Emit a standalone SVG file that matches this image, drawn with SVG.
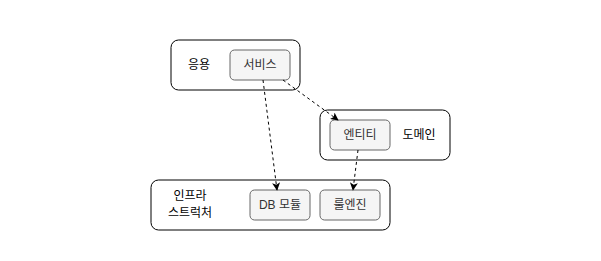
<svg xmlns="http://www.w3.org/2000/svg" width="601" height="261" viewBox="0 0 601 261">
<style>
.outer{fill:#ffffff;stroke:#000000;stroke-width:1}
.inner{fill:#f5f5f5;stroke:#666666;stroke-width:1}
.t{font-family:"Liberation Sans","Noto Sans CJK KR",sans-serif;font-size:12px;fill:#000000;text-anchor:middle;dominant-baseline:central}
.ti{fill:#333333}
.c{fill:none;stroke:#000000;stroke-width:1;stroke-dasharray:3 3}
</style>
<defs>
<marker id="ah" viewBox="0 0 10 10" refX="9" refY="5" markerWidth="8" markerHeight="8" orient="auto" markerUnits="userSpaceOnUse">
<path d="M0,0 L10,5 L0,10 L2.5,5 Z" fill="#000000"/>
</marker>
</defs>
<rect width="601" height="261" fill="#ffffff"/>
<g id="app">
<rect class="outer" x="171" y="40" width="129" height="50" rx="7.5"/>
<text class="t" x="199" y="65">응용</text>
</g>
<g id="domain">
<rect class="outer" x="320" y="110" width="130" height="50" rx="7.5"/>
<text class="t" x="419" y="135">도메인</text>
</g>
<g id="infra">
<rect class="outer" x="151" y="180" width="239" height="50" rx="7.5"/>
<text class="t" x="190" y="196">인프라</text>
<text class="t" x="190" y="213">스트럭처</text>
</g>
<g id="service">
<rect class="inner" x="230" y="50" width="60" height="30" rx="4.5"/>
<text class="t ti" x="260" y="65">서비스</text>
</g>
<g id="entity">
<rect class="inner" x="330" y="120" width="60" height="30" rx="4.5"/>
<text class="t ti" x="360" y="135">엔티티</text>
</g>
<g id="dbmodule">
<rect class="inner" x="250" y="190" width="60" height="30" rx="4.5"/>
<text class="t ti" x="280" y="205">DB 모듈</text>
</g>
<g id="ruleengine">
<rect class="inner" x="320" y="190" width="60" height="30" rx="4.5"/>
<text class="t ti" x="350" y="205">룰엔진</text>
</g>
<g id="connectors">
<path class="c" d="M263,80 L277,190" stroke-width="1.6" marker-end="url(#ah)"/>
<path class="c" d="M283,80 L338,120" marker-end="url(#ah)"/>
<path class="c" d="M358,150 L353,190" marker-end="url(#ah)"/>
</g>
</svg>
